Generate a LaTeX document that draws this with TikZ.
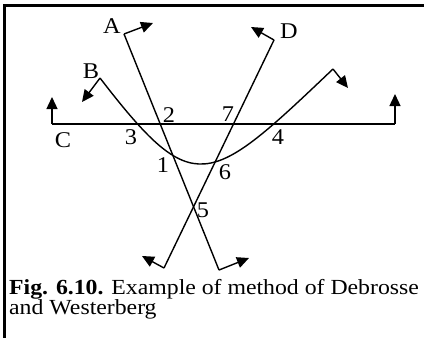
\documentclass[tikz,border=0pt]{standalone}
\usepackage{fontspec}
\usepackage{graphicx}
\setmainfont{Liberation Serif}
\usetikzlibrary{arrows.meta}
\newcommand{\widetxt}[1]{\scalebox{1.08}[1]{#1}}
\newcommand{\widecap}[1]{\scalebox{1.105}[1]{#1}}
\begin{document}
\begin{tikzpicture}[x=1pt,y=-1pt,
  ln/.style={line width=1.4pt},
  hook/.style={line width=1.4pt,-{Triangle[length=12pt,width=11pt]}},
  lbl/.style={font=\fontsize{22.5}{22.5}\selectfont,inner sep=0pt},
  captext/.style={font=\fontsize{21.5}{21.5}\selectfont,inner sep=0pt,anchor=base west}]
\useasboundingbox (0,0) rectangle (424,338);
% frame
\draw[line width=3.3pt] (4.3,338) -- (4.3,5.7) -- (424,5.7);
% line A
\coordinate (A1) at (124,34);
\coordinate (A2) at (219,270);
\coordinate (A1t) at (153,23);
\coordinate (A2t) at (249,258);
\draw[ln] (A1) -- (A2);
\draw[hook] (A1) -- (A1t);
\draw[hook] (A2) -- (A2t);
% line D
\coordinate (D1) at (274,40);
\coordinate (D2) at (164,268);
\coordinate (D1t) at (251,27);
\coordinate (D2t) at (142,256);
\draw[ln] (D1) -- (D2);
\draw[hook] (D1) -- (D1t);
\draw[hook] (D2) -- (D2t);
% curve B
\coordinate (B1) at (100,78);
\coordinate (B2) at (333,69);
\coordinate (B1t) at (82,102);
\coordinate (B2t) at (348,88);
\draw[ln] (B1) .. controls (194,200) and (208,188) .. (B2);
\draw[hook] (B1) -- (B1t);
\draw[hook] (B2) -- (B2t);
% line C
\coordinate (C1) at (52,124);
\coordinate (C2) at (395,124);
\coordinate (C1t) at (52,97);
\coordinate (C2t) at (395,94);
\draw[ln] (C1) -- (C2);
\draw[hook] (C1) -- (C1t);
\draw[hook] (C2) -- (C2t);
% labels
\node[lbl] (lA) at (112,26) {\widetxt{A}};
\node[lbl] (lD) at (289,31) {\widetxt{D}};
\node[lbl] (lB) at (91,71) {\widetxt{B}};
\node[lbl] (lC) at (63,140) {\widetxt{C}};
\node[lbl] (l2) at (169,115) {\widetxt{2}};
\node[lbl] (l3) at (131,137) {\widetxt{3}};
\node[lbl] (l1) at (163,165) {\widetxt{1}};
\node[lbl] (l7) at (228,114) {\widetxt{7}};
\node[lbl] (l4) at (278,137) {\widetxt{4}};
\node[lbl] (l6) at (225,172) {\widetxt{6}};
\node[lbl] (l5) at (203,210) {\widetxt{5}};
% caption
\node[captext] (cap1) at (9,294) {\widecap{\textbf{Fig. 6.10.} Example of method of Debrosse}};
\node[captext] (cap2) at (9,314) {\widecap{and Westerberg}};
\end{tikzpicture}
\end{document}
